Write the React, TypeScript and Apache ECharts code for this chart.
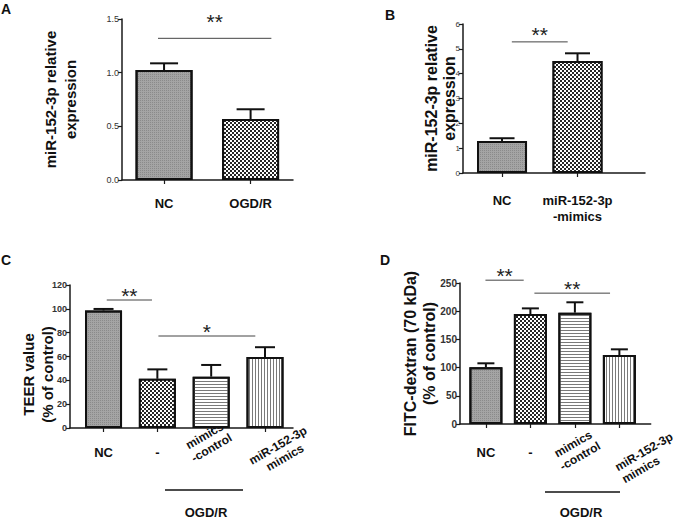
import React, { useEffect, useRef } from 'react';
import * as echarts from 'echarts';

// ---------- data ----------
const catsA = ['NC', 'OGD/R'];
const meanA = [1.025, 0.568];
const errA = [0.062, 0.091];

const catsB = ['NC', 'miR-152-3p\n-mimics'];
const meanB = [1.29, 4.51];
const errB = [0.11, 0.31];

const catsCD = ['NC', '-', 'mimics\n-control', 'miR-152-3p\nmimics'];
const meanC = [98.6, 41.3, 43.1, 59.5];
const errC = [1.3, 7.9, 9.8, 8.3];
const meanD = [100.5, 195, 197.4, 122.3];
const errD = [7.1, 10, 18.4, 10.1];

// y axis ranges: [max, interval, decimals]
const yA = [1.5, 0.5, 1];
const yB = [6, 1, 0];
const yC = [120, 20, 0];
const yD = [250, 50, 0];

// significance annotations: [fromIndex, toIndex, y, label]
const sigA: [number, number, number, string][] = [[-0.07, 1.24, 1.32, '**']];
const sigB: [number, number, number, string][] = [[0.13, 0.87, 5.28, '**']];
const sigC: [number, number, number, string][] = [
  [0.06, 0.9, 107.4, '**'],
  [1.02, 2.82, 77.2, '*'],
];
const sigD: [number, number, number, string][] = [
  [-0.01, 0.85, 255, '**'],
  [1.09, 2.79, 232, '**'],
];

const groupLabel = 'OGD/R';

// ---------- styles ----------
const FONT = '"Liberation Sans", Arial, sans-serif';
const AX = '#1a1a1a';

const patNC = {
  color: '#a4a4a4',
  decal: {
    symbol: 'rect',
    color: 'rgba(0,0,0,0.16)',
    dashArrayX: [1, 1],
    dashArrayY: [1, 1],
    symbolSize: 1,
    symbolKeepAspect: false,
  },
};
const patChecker = {
  color: '#262626',
  decal: {
    symbol: 'rect',
    color: '#ffffff',
    dashArrayX: [[2, 2], [0, 2, 2, 0]],
    dashArrayY: [2, 0],
    symbolSize: 1,
    symbolKeepAspect: false,
  },
};
const patH = {
  color: '#ffffff',
  decal: {
    symbol: 'rect',
    color: '#7a7a7a',
    dashArrayX: [10, 0],
    dashArrayY: [1, 2],
    symbolSize: 1,
    symbolKeepAspect: false,
  },
};
const patV = {
  color: '#ffffff',
  decal: {
    symbol: 'rect',
    color: '#7a7a7a',
    dashArrayX: [1, 2],
    dashArrayY: [10, 0],
    symbolSize: 1,
    symbolKeepAspect: false,
  },
};

const patsAB = [patNC, patChecker];
const patsCD = [patNC, patChecker, patH, patV];

type RotLabel = { idx: number; margin: number; padding: number[]; align: string };

type Panel = {
  grid: { left: number; top: number; width: number; height: number };
  xMin: number;
  xMax: number;
  cats: string[];
  mean: number[];
  err: number[];
  y: number[];
  pats: any[];
  barWidth: number;
  cap: number;
  sig: [number, number, number, string][];
  sigLift: number;
  title: string;
  titleSize: number;
  titleLH: number;
  titlePad: number[];
  nameGap: number;
  tickBold: boolean;
  tickSize: number;
  catSize: number;
  catMargin: number;
  rot: RotLabel[];
};

const panels: Panel[] = [
  {
    grid: { left: 122, top: 19, width: 171, height: 161 },
    xMin: -0.486, xMax: 1.49,
    cats: catsA, mean: meanA, err: errA, y: yA, pats: patsAB,
    barWidth: 57, cap: 14, sig: sigA, sigLift: 27,
    title: 'miR-152-3p relative\nexpression', titleSize: 15, titleLH: 20, titlePad: [0, 0, 0, 0], nameGap: 42,
    tickBold: false, tickSize: 9, catSize: 13, catMargin: 15, rot: [],
  },
  {
    grid: { left: 463, top: 24, width: 182, height: 149 },
    xMin: -0.517, xMax: 1.894,
    cats: catsB, mean: meanB, err: errB, y: yB, pats: patsAB,
    barWidth: 50, cap: 12.5, sig: sigB, sigLift: 18,
    title: 'miR-152-3p relative\nexpression', titleSize: 16, titleLH: 18, titlePad: [0, 0, 0, 0], nameGap: 5,
    tickBold: false, tickSize: 8, catSize: 13, catMargin: 19, rot: [],
  },
  {
    grid: { left: 70, top: 285, width: 223, height: 143 },
    xMin: -0.623, xMax: 3.52,
    cats: catsCD, mean: meanC, err: errC, y: yC, pats: patsCD,
    barWidth: 37, cap: 10, sig: sigC, sigLift: 15,
    title: 'TEER value\n(% of control)', titleSize: 15, titleLH: 19, titlePad: [0, 36, 0, 0], nameGap: 13,
    tickBold: true, tickSize: 9, catSize: 13, catMargin: 16,
    rot: [
      { idx: 2, margin: 12, padding: [0, 7, 0, 0], align: 'center' },
      { idx: 3, margin: 33, padding: [0, 0, 0, 38], align: 'center' },
    ],
  },
  {
    grid: { left: 460, top: 283, width: 210, height: 141 },
    xMin: -0.582, xMax: 3.704,
    cats: catsCD, mean: meanD, err: errD, y: yD, pats: patsCD,
    barWidth: 33, cap: 8.5, sig: sigD, sigLift: 15,
    title: 'FITC-dextran (70 kDa)\n(% of control)', titleSize: 16, titleLH: 19, titlePad: [0, 0, 0, 0], nameGap: 21,
    tickBold: true, tickSize: 10, catSize: 13, catMargin: 20,
    rot: [
      { idx: 2, margin: 27, padding: [0, 0, 0, 4], align: 'center' },
      { idx: 3, margin: 50, padding: [0, 0, 0, 0], align: 'left' },
    ],
  },
];

function buildOption() {
  const grid: any[] = [];
  const xAxis: any[] = [];
  const yAxis: any[] = [];
  const series: any[] = [];

  panels.forEach((p, pi) => {
    grid.push({ ...p.grid, containLabel: false });
    const idx = p.cats.map((_, i) => i);
    const rotSet = p.rot.map((r) => r.idx);
    const plainIdx = idx.filter((i) => rotSet.indexOf(i) < 0);
    const baseX = xAxis.length;
    xAxis.push({
      type: 'value',
      gridIndex: pi,
      position: 'bottom',
      min: p.xMin,
      max: p.xMax,
      splitLine: { show: false },
      axisLine: { show: true, onZero: false, lineStyle: { color: AX, width: 1.5 } },
      axisTick: { show: true, customValues: idx, length: 4, lineStyle: { color: AX, width: 1.2 } },
      axisLabel: {
        customValues: plainIdx,
        showMinLabel: true,
        showMaxLabel: true,
        hideOverlap: false,
        formatter: (v: number) => p.cats[Math.round(v)],
        fontFamily: FONT,
        fontWeight: 'bold',
        fontSize: p.catSize,
        color: '#111',
        margin: p.catMargin,
        lineHeight: 16,
      },
    });
    p.rot.forEach((r) => {
      xAxis.push({
        type: 'value',
        gridIndex: pi,
        position: 'bottom',
        offset: 0,
        min: p.xMin,
        max: p.xMax,
        splitLine: { show: false },
        axisLine: { show: false, onZero: false },
        axisTick: { show: false },
        axisLabel: {
          customValues: [r.idx],
          showMinLabel: true,
          showMaxLabel: true,
          hideOverlap: false,
          formatter: (v: number) => p.cats[Math.round(v)],
          rotate: 30,
          align: r.align,
          verticalAlign: 'middle',
          padding: r.padding,
          fontFamily: FONT,
          fontWeight: 'bold',
          fontSize: 12,
          lineHeight: 14,
          color: '#111',
          margin: r.margin,
        },
      });
    });
    yAxis.push({
      type: 'value',
      gridIndex: pi,
      min: 0,
      max: p.y[0],
      interval: p.y[1],
      splitLine: { show: false },
      axisLine: { show: true, onZero: false, lineStyle: { color: AX, width: 1.5 } },
      axisTick: { show: true, length: 4, lineStyle: { color: AX, width: 1.2 } },
      axisLabel: {
        formatter: (v: number) => v.toFixed(p.y[2]),
        fontFamily: FONT,
        fontSize: p.tickSize,
        fontWeight: p.tickBold ? 'bold' : 'normal',
        color: '#333',
        margin: 3,
      },
      name: p.title,
      nameLocation: 'middle',
      nameGap: p.nameGap,
      nameMoveOverlap: false,
      nameTextStyle: {
        fontFamily: FONT,
        fontWeight: 'bold',
        fontSize: p.titleSize,
        lineHeight: p.titleLH,
        padding: p.titlePad,
        color: '#111',
      },
    });

    series.push({
      type: 'bar',
      xAxisIndex: baseX,
      yAxisIndex: pi,
      barWidth: p.barWidth,
      data: p.mean.map((m, i) => ({
        value: [i, m],
        itemStyle: { ...p.pats[i], borderColor: '#111', borderWidth: 2 },
      })),
      z: 2,
    });

    series.push({
      type: 'custom',
      xAxisIndex: baseX,
      yAxisIndex: pi,
      clip: false,
      z: 1,
      data: p.mean.map((m, i) => [i, m, p.err[i]]),
      encode: { x: 0, y: 1 },
      renderItem: (params: any, api: any) => {
        const x = api.value(0);
        const m = api.value(1);
        const e = api.value(2);
        const b = api.coord([x, m]);
        const t = api.coord([x, m + e]);
        const st = { stroke: '#111', lineWidth: 2, fill: 'none' };
        return {
          type: 'group',
          children: [
            { type: 'polyline', shape: { points: [[b[0], b[1]], [t[0], t[1]]] }, style: st },
            { type: 'polyline', shape: { points: [[t[0] - p.cap, t[1]], [t[0] + p.cap, t[1]]] }, style: st },
          ],
        };
      },
    });

    series.push({
      type: 'custom',
      xAxisIndex: baseX,
      yAxisIndex: pi,
      clip: false,
      z: 3,
      data: p.sig.map((s) => [s[0], s[2], s[1]]),
      encode: { x: 0, y: 1 },
      renderItem: (params: any, api: any) => {
        const s = p.sig[params.dataIndex];
        const a = api.coord([s[0], s[2]]);
        const b = api.coord([s[1], s[2]]);
        return {
          type: 'group',
          children: [
            {
              type: 'polyline',
              shape: { points: [[a[0], a[1]], [b[0], b[1]]] },
              style: { stroke: '#444', lineWidth: 1, fill: 'none' },
            },
            {
              type: 'text',
              x: (a[0] + b[0]) / 2,
              y: a[1] - p.sigLift,
              style: {
                text: s[3],
                fontFamily: FONT,
                fontSize: 21,
                fill: '#222',
                align: 'center',
                verticalAlign: 'top',
              },
            },
          ],
        };
      },
    });
  });

  const letter = (t: string, x: number, y: number) => ({
    type: 'text',
    x,
    y,
    style: { text: t, fontFamily: FONT, fontWeight: 'bold', fontSize: 14, fill: '#111' },
  });
  const grpText = (x: number, y: number) => ({
    type: 'text',
    x,
    y,
    style: {
      text: groupLabel,
      fontFamily: FONT,
      fontWeight: 'bold',
      fontSize: 13,
      fill: '#111',
      align: 'center',
      verticalAlign: 'middle',
    },
  });
  const grpLine = (x1: number, x2: number, y: number) => ({
    type: 'line',
    shape: { x1, y1: y, x2, y2: y },
    style: { stroke: '#111', lineWidth: 1.5 },
  });

  return {
    animation: false,
    backgroundColor: '#ffffff',
    grid,
    xAxis,
    yAxis,
    series,
    graphic: [
      letter('A', 1, 2),
      letter('B', 385, 8),
      letter('C', 1, 253),
      letter('D', 380, 253),
      grpLine(165, 243, 490),
      grpText(206, 512),
      grpLine(545, 620, 492),
      grpText(581, 512),
    ],
  };
}

export default function App() {
  const ref = useRef<HTMLDivElement>(null);
  useEffect(() => {
    if (!ref.current) return;
    const chart = echarts.init(ref.current, undefined, { renderer: 'svg' });
    chart.setOption(buildOption() as any);
    return () => chart.dispose();
  }, []);
  return (
    <div
      ref={ref}
      style={{ position: 'absolute', left: 0, top: 0, width: 685, height: 521, background: '#fff' }}
    />
  );
}
